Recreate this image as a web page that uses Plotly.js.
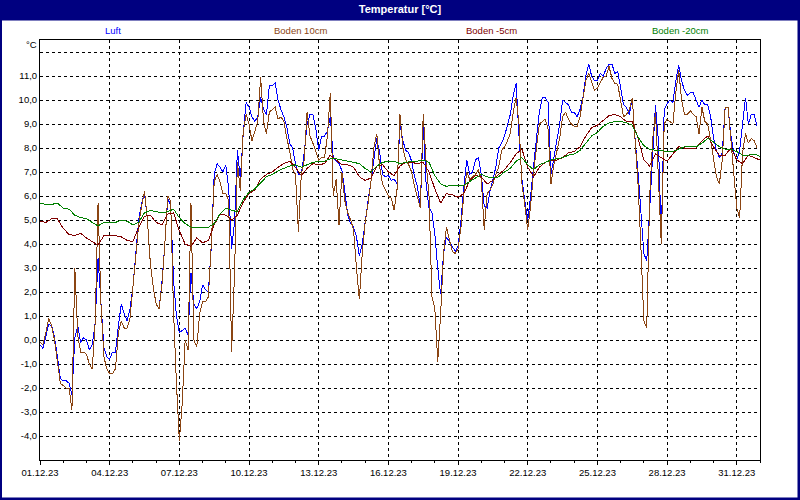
<!DOCTYPE html>
<html><head><meta charset="utf-8">
<script src="https://cdn.plot.ly/plotly-3.0.1.min.js"></script>
<style>html,body{margin:0;padding:0;background:#fff}#chart{width:800px;height:500px}
#chart .scatterlayer path.js-line{shape-rendering:crispEdges}</style>
</head><body><div id="chart"></div>
<script>
const chartTitle = 'Temperatur [°C]';
const unitLabel = '°C';
const seriesNames = ['Luft', 'Boden 10cm', 'Boden -5cm', 'Boden -20cm'];
const seriesColors = ['#0000ff', '#8b4513', '#800000', '#008000'];

// 3-hourly values from 01.12.23 00:00
const luft = [
 -0.2,-0.35,0.15,0.65,0.6,0.1,-0.7,-1.6,
 -1.7,-1.7,-1.8,-2.3,0.1,0.6,-0.1,0.1,
 0.0,-0.4,-0.2,0.7,3.4,1.3,-0.3,-0.7,
 -0.8,-0.5,-0.5,0.6,1.5,1.1,0.8,1.3,
 2.2,3.6,5.0,5.7,6.1,5.0,3.2,2.2,
 1.5,1.3,2.4,4.0,5.9,5.6,2.5,1.0,
 0.3,0.4,0.5,0.2,2.8,1.5,1.3,1.6,
 2.3,2.1,2.0,3.9,6.9,7.35,7.2,7.0,
 7.3,6.3,3.8,4.9,7.9,6.7,8.6,9.9,
 9.7,9.3,9.1,9.3,10.1,9.6,9.4,10.6,
 10.6,10.7,10.0,9.6,9.3,8.9,8.2,8.0,
 7.35,6.9,6.9,7.8,9.0,9.4,9.4,8.8,
 7.9,8.5,8.5,8.7,9.3,7.6,7.45,7.35,
 7.05,6.2,5.2,4.85,4.7,4.3,3.5,4.0,
 5.0,5.8,6.6,7.6,8.4,7.8,6.9,6.8,
 6.85,6.65,6.7,6.5,9.0,8.3,7.9,7.8,
 7.45,6.8,6.4,5.5,9.0,6.5,5.5,5.3,
 4.4,3.0,1.9,3.6,4.3,4.1,3.9,3.7,
 3.9,5.0,6.4,7.5,6.9,7.0,7.5,7.6,
 6.9,5.6,5.5,6.2,6.7,7.2,8.0,8.2,
 8.5,8.9,9.4,10.2,10.7,8.5,6.7,5.8,
 5.0,6.0,7.3,8.4,9.5,10.1,10.1,9.9,
 6.9,7.7,8.3,9.0,10.0,9.9,9.8,9.5,
 9.5,9.3,9.6,10.1,11.0,11.5,11.0,10.8,
 10.8,11.1,11.0,11.3,11.5,11.5,11.1,11.2,
 10.5,9.8,9.7,9.4,10.1,8.3,7.0,5.2,
 3.6,3.3,5.6,7.6,9.8,8.3,4.3,9.6,
 9.85,10.0,9.9,10.8,11.45,10.8,10.4,10.2,
 10.3,10.3,10.0,9.7,10.0,9.8,9.8,9.3,
 8.4,7.9,7.6,7.8,9.7,9.7,8.5,7.8,
 7.5,7.9,9.0,10.1,9.0,9.4,9.4,8.9
];
const boden10 = [
 -0.1,-0.2,0.3,0.9,0.6,0.0,-0.9,-1.8,
 -1.9,-2.0,-2.0,-2.9,3.0,0.2,-0.5,-0.5,
 -0.6,-1.0,-1.2,0.7,5.7,1.5,-0.7,-1.2,
 -1.4,-1.4,-1.2,0.3,0.8,0.5,0.5,0.9,
 2.2,3.5,4.8,5.6,6.2,5.0,3.2,2.2,
 1.5,1.3,2.3,4.0,6.0,5.8,1.2,-1.8,
 -4.2,-2.6,0.0,-0.4,5.7,0.0,-0.3,1.1,
 1.6,1.6,1.8,4.0,6.6,6.9,6.6,6.1,
 6.1,5.8,-0.5,2.8,7.4,6.2,8.7,9.4,
 9.0,8.3,8.7,9.1,10.95,9.1,8.6,9.5,
 9.6,9.7,9.2,9.3,9.1,8.4,7.9,7.1,
 6.9,4.5,6.9,7.5,9.5,8.5,8.2,7.8,
 7.5,7.6,7.6,8.5,10.3,6.0,6.7,4.8,
 7.0,5.8,5.3,5.0,4.6,3.0,1.7,3.6,
 4.9,5.7,6.6,8.0,8.6,7.2,6.5,6.25,
 6.0,5.9,5.4,6.3,9.4,8.0,7.5,7.3,
 7.0,6.4,6.0,5.5,9.4,7.4,6.0,1.8,
 1.3,-0.9,1.1,3.6,4.7,4.2,3.7,3.6,
 3.8,4.7,6.1,7.0,6.7,6.8,6.9,7.1,
 6.7,4.6,6.1,6.25,6.5,6.9,7.2,7.9,
 8.05,8.3,8.6,9.5,10.1,9.0,6.5,5.6,
 4.6,5.6,7.0,8.0,9.0,9.1,9.2,8.8,
 6.5,7.3,7.9,8.4,9.3,9.5,9.2,9.0,
 8.9,8.9,9.3,10.1,10.8,11.1,10.7,10.4,
 10.5,10.7,10.95,11.0,11.4,10.9,10.7,10.65,
 10.0,9.3,9.4,9.6,10.1,8.3,6.5,3.8,
 0.8,0.5,6.0,8.3,9.5,6.8,4.0,9.0,
 9.2,9.1,9.0,10.3,11.25,10.0,9.4,9.4,
 9.55,9.4,9.3,8.6,9.7,9.1,9.0,8.3,
 7.6,6.8,6.5,7.5,9.7,9.7,8.3,6.9,
 5.5,5.1,7.8,8.6,8.2,8.4,8.3,8.0
];
// 6-hourly values from 01.12.23 00:00
const boden5 = [
 4.95,4.9,5.05,5.05, 4.65,4.4,4.35,4.45, 4.25,4.1,3.95,4.35, 4.35,4.35,4.3,4.15,
 4.1,4.7,5.15,5.2, 4.9,4.8,5.25,5.3, 4.55,4.0,3.9,4.25, 4.05,4.15,4.8,5.25,
 5.2,5.0,5.2,5.75, 6.1,6.25,6.7,6.9, 7.0,7.2,7.35,7.45, 7.2,6.85,7.15,7.35,
 7.3,7.35,7.7,7.5, 7.3,7.3,7.2,6.8, 6.65,6.75,7.25,7.3, 7.0,6.85,7.25,7.4,
 7.4,7.35,7.4,7.0, 6.3,5.7,6.1,6.05, 5.95,6.1,6.65,6.85, 6.8,6.5,6.65,6.9,
 7.1,7.4,7.75,7.95, 7.2,6.8,7.2,7.4, 7.5,7.5,7.6,7.8, 7.85,8.05,8.5,8.85,
 8.95,9.15,9.35,9.4, 9.3,9.1,9.1,8.4, 7.5,7.25,7.75,7.6, 7.45,7.75,8.05,8.0,
 8.0,8.0,8.3,8.5, 8.05,7.7,7.7,8.0, 7.5,7.35,7.7,7.6, 7.5
];
const boden20 = [
 5.7,5.65,5.65,5.7, 5.5,5.45,5.2,5.1, 5.05,4.9,4.75,4.9, 4.9,4.9,5.0,4.95,
 4.8,4.9,5.3,5.4, 5.35,5.3,5.35,5.45, 5.1,4.85,4.7,4.7, 4.7,4.7,4.85,5.25,
 5.5,5.4,5.35,5.85, 6.15,6.3,6.55,6.8, 6.9,7.05,7.15,7.25, 7.3,7.2,7.3,7.4,
 7.45,7.45,7.55,7.55, 7.5,7.45,7.4,7.35, 7.15,7.0,7.25,7.4, 7.45,7.45,7.35,7.4,
 7.45,7.45,7.5,7.4, 6.85,6.5,6.4,6.45, 6.45,6.45,6.6,6.75, 6.9,6.8,6.75,6.8,
 7.0,7.15,7.45,7.6, 7.3,7.1,7.3,7.4, 7.5,7.55,7.6,7.7, 7.75,7.9,8.2,8.5,
 8.65,8.9,9.05,9.1, 9.1,9.05,8.95,8.45, 8.1,7.95,7.9,7.9, 7.85,7.85,7.95,8.05,
 8.05,8.05,8.2,8.4, 8.25,8.05,7.95,7.95, 7.85,7.7,7.7,7.75, 7.65
];
const yTickVals = [-4,-3,-2,-1,0,1,2,3,4,5,6,7,8,9,10,11,12];
const yTickText = ['-4,0','-3,0','-2,0','-1,0','0,0','1,0','2,0','3,0','4,0','5,0','6,0','7,0','8,0','9,0','10,0','11,0',''];

function timeAxis(n, stepHours) {
  const base = Date.UTC(2023, 11, 1);
  const out = [];
  for (let i = 0; i < n; i++) {
    out.push(new Date(base + i * stepHours * 3600000).toISOString().slice(0, 16).replace('T', ' '));
  }
  return out;
}

const allSeries = [luft, boden10, boden5, boden20];
const steps = [3, 3, 6, 6];
const traces = allSeries.map((vals, i) => ({
  type: 'scatter', mode: 'lines', name: seriesNames[i],
  x: timeAxis(vals.length, steps[i]), y: vals,
  line: {color: seriesColors[i], width: 1}, showlegend: false, hoverinfo: 'skip'
}));

const W = 800, H = 500, M = {l: 40, r: 40, t: 40, b: 40};
const PW = W - M.l - M.r, PH = H - M.t - M.b;
const px = x => (x - M.l) / PW;
const py = y => (H - M.b - y) / PH;
const FONT = 'Liberation Sans, Arial, sans-serif';
const navy = '#000080';

const rect = (x0, y0, x1, y1) => ({type: 'rect', xref: 'paper', yref: 'paper',
  x0: px(x0), x1: px(x1), y0: py(y1), y1: py(y0), fillcolor: navy, line: {width: 0}, layer: 'above'});

const legendX = [113, 300, 491, 680];
const annotations = seriesNames.map((n, i) => ({
  text: n, xref: 'paper', yref: 'paper', x: px(legendX[i]), y: py(30.5),
  xanchor: 'center', yanchor: 'middle', showarrow: false,
  font: {family: FONT, size: 9.5, color: seriesColors[i]}
}));
annotations.push({text: unitLabel, xref: 'paper', yref: 'paper', x: px(31), y: py(44.5),
  xanchor: 'center', yanchor: 'middle', showarrow: false, font: {family: FONT, size: 9.5, color: '#000'}});

const layout = {
  width: W, height: H, margin: M,
  paper_bgcolor: '#ffffff', plot_bgcolor: '#ffffff',
  title: {text: chartTitle, x: 0.5, xref: 'container', y: 1 - 9.5 / H, yref: 'container',
    xanchor: 'center', yanchor: 'middle', font: {family: FONT, size: 11, color: '#ffffff', weight: 'bold'}},
  font: {family: FONT, size: 9.5, color: '#000'},
  xaxis: {
    type: 'date', range: ['2023-12-01 00:00', '2024-01-01 00:00'],
    tick0: '2023-12-01', dtick: 3 * 86400000, tickformat: '%d.%m.%y',
    ticks: 'outside', ticklen: 4, tickcolor: '#000', tickwidth: 1,
    showline: true, linecolor: '#000', linewidth: 1, mirror: true,
    showgrid: true, gridcolor: '#000', gridwidth: 1, griddash: '3px,3px',
    minor: {dtick: 86400000, ticks: 'outside', ticklen: 2, tickcolor: '#000', showgrid: false},
    tickfont: {family: FONT, size: 9.5, color: '#000'}, zeroline: false, fixedrange: true
  },
  yaxis: {
    range: [-5, 12.5], tickmode: 'array', tickvals: yTickVals, ticktext: yTickText,
    ticks: '', showline: true, linecolor: '#000', linewidth: 1, mirror: true,
    showgrid: true, gridcolor: '#000', gridwidth: 1, griddash: '3px,3px',
    zeroline: false, tickfont: {family: FONT, size: 9.5, color: '#000'}, fixedrange: true
  },
  shapes: [rect(0, 0, 800, 20.5), rect(0, 0, 2, 500), rect(797.5, 0, 800, 500), rect(0, 497.5, 800, 500)],
  annotations: annotations,
  hovermode: false
};

Plotly.newPlot('chart', traces, layout, {displayModeBar: false, staticPlot: true});
</script></body></html>
